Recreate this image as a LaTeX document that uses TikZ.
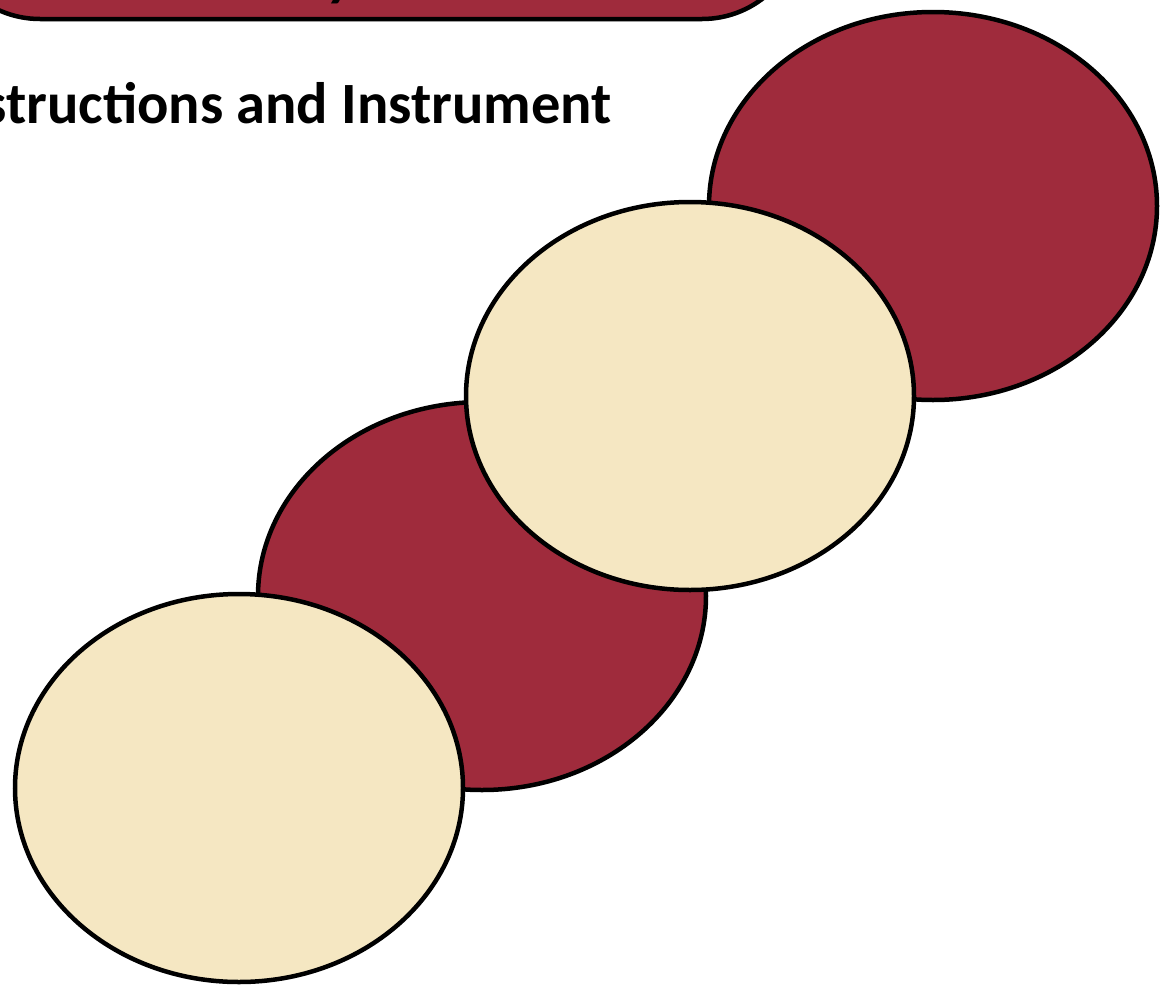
\documentclass[tikz,border=0pt]{standalone}
\usepackage{fontspec}
\setmainfont{Carlito}
\usetikzlibrary{shapes.geometric,shadows}
\definecolor{wine}{RGB}{159,43,60}
\definecolor{cream}{RGB}{245,231,194}
\tikzset{
  blob/.style={ellipse, draw=black, line width=4.5pt, inner sep=0pt,
    minimum width=448pt, minimum height=388pt},
  winebl/.style={blob, fill=wine},
  creambl/.style={blob, fill=cream},
  banner/.style={draw=black, line width=4.5pt, fill=wine, rounded corners=100pt,
    drop shadow={shadow xshift=1pt, shadow yshift=-2pt, fill=black!35, opacity=1}},
}
\begin{document}
\begin{tikzpicture}[x=1pt, y=-1pt]
\useasboundingbox (0,0) rectangle (1168,986);
% title banner running off the top edge
\draw[banner] (-60,-220) rectangle (802,19);
\node[anchor=base west, inner sep=0pt, font=\fontsize{60}{60}\selectfont\bfseries\itshape] (ttl) at (328,-6) {y};
% subtitle
\node[anchor=base east, inner sep=0pt, font=\fontsize{58.5}{58.5}\selectfont\bfseries] (sub) at (612,123) {Instructions and Instrument};
% chain of ovals
\node[winebl] (r1) at (933,206) {};
\node[winebl] (r2) at (482,596) {};
\node[creambl] (c1) at (690,396) {};
\node[creambl] (c2) at (239,788) {};
\end{tikzpicture}
\end{document}
